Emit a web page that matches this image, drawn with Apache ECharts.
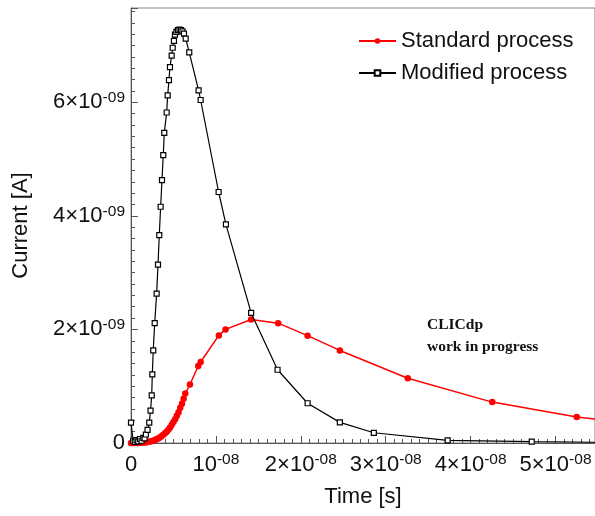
<!DOCTYPE html>
<html>
<head>
<meta charset="utf-8">
<script src="https://cdn.jsdelivr.net/npm/echarts@6/dist/echarts.min.js"></script>
<style>
html,body{margin:0;padding:0;background:#fff;}
#chart{width:595px;height:516px;}
</style>
</head>
<body>
<div id="chart"></div>
<script>
// Time in ns (1e-9 s), current in nA (1e-9 A)
const standardTimeNs = [0,0.2,0.4,0.6,0.8,1.0,1.2,1.4,1.6,1.8,2.0,2.2,2.4,2.6,2.8,3.0,3.2,3.4,3.6,3.8,4.0,4.2,4.4,4.6,4.8,5.0,5.2,5.4,5.6,5.8,6.0,6.2,6.39,6.94,7.92,8.2,10.35,11.14,14.15,17.33,20.8,24.6,32.6,42.55,52.5,56.0];
const standardCurrentNA = [0,0,0,0.001,0.002,0.003,0.005,0.007,0.01,0.014,0.019,0.025,0.032,0.041,0.052,0.065,0.08,0.098,0.12,0.145,0.17,0.2,0.235,0.275,0.32,0.37,0.42,0.48,0.54,0.62,0.69,0.78,0.87,1.03,1.356,1.426,1.895,2.0,2.175,2.11,1.89,1.63,1.14,0.72,0.456,0.40];

const modifiedTimeNs = [0,0.25,0.45,0.65,0.85,1.05,1.25,1.45,1.6,1.75,1.95,2.15,2.3,2.44,2.51,2.62,2.79,3.02,3.18,3.33,3.49,3.65,3.8,3.92,4.2,4.32,4.47,4.59,4.79,4.91,5.06,5.18,5.35,5.53,5.71,5.88,6.06,6.24,6.44,6.86,7.96,8.2,10.32,11.18,14.15,17.26,20.8,24.6,28.6,37.3,47.2,57.0];
const modifiedCurrentNA = [0.36,0.04,0.02,0.05,0.03,0.07,0.04,0.09,0.08,0.15,0.23,0.36,0.57,0.84,1.21,1.63,2.11,2.63,3.14,3.66,4.16,4.63,5.07,5.46,5.82,6.12,6.39,6.62,6.82,6.96,7.08,7.19,7.24,7.27,7.28,7.27,7.25,7.21,7.12,6.88,6.21,6.04,4.42,3.85,2.29,1.29,0.70,0.363,0.18,0.047,0.023,0.01];

const seriesNames = ['Standard process','Modified process'];
const xTickMantissa = {0:'0',10:'10',20:'2×10',30:'3×10',40:'4×10',50:'5×10'};
const yTickMantissa = {0:'0',2:'2×10',4:'4×10',6:'6×10'};
const xExp = '-08', yExp = '-09';

const pair = (a,b) => a.map((v,i)=>[v,b[i]]);

const chart = echarts.init(document.getElementById('chart'), null, {renderer:'canvas'});
const FONT = 'Liberation Sans, Arial, sans-serif';
const rich = {
  m:{fontSize:22, fontFamily:FONT, color:'#111', lineHeight:25},
  s:{fontSize:15.5, fontFamily:FONT, color:'#111', lineHeight:15, verticalAlign:'top'}
};
chart.setOption({
  animation:false,
  backgroundColor:'#fff',
  grid:{left:131, right:0, top:8, bottom:73, show:true, borderColor:'#888', borderWidth:1, backgroundColor:'transparent', containLabel:false, outerBoundsMode:'none'},
  legend:{
    orient:'vertical', left:358, top:30, padding:0, itemWidth:37, itemHeight:7, itemGap:10,
    data:seriesNames,
    textStyle:{fontSize:22, fontFamily:FONT, color:'#111', lineHeight:22}
  },
  xAxis:{
    type:'value', min:0, max:54.65, interval:10,
    name:'Time [s]', nameLocation:'middle', nameGap:43,
    nameTextStyle:{fontSize:22, fontFamily:FONT, color:'#111'},
    axisLine:{show:true, onZero:false, lineStyle:{color:'#555', width:1}},
    axisTick:{show:true, inside:true, length:7, lineStyle:{color:'#555'}},
    minorTick:{show:true, splitNumber:10, length:4, lineStyle:{color:'#555'}},
    splitLine:{show:false},
    axisLabel:{margin:9, rich:rich, showMaxLabel:false, formatter:v=>{
      const k=Math.round(v); if(k===0) return '{m|0}';
      return '{m|'+xTickMantissa[k]+'}{s|'+xExp+'}';
    }}
  },
  yAxis:{
    type:'value', min:0, max:7.66, interval:2,
    name:'Current [A]', nameLocation:'middle', nameGap:99,
    nameTextStyle:{fontSize:22, fontFamily:FONT, color:'#111'},
    axisLine:{show:true, onZero:false, lineStyle:{color:'#555', width:1}},
    axisTick:{show:true, inside:true, length:7, lineStyle:{color:'#555'}},
    minorTick:{show:true, splitNumber:10, length:4, lineStyle:{color:'#555'}},
    splitLine:{show:false},
    axisLabel:{margin:6, rich:rich, showMaxLabel:false, formatter:v=>{
      const k=Math.round(v); if(k===0) return '{m|0}';
      return '{m|'+yTickMantissa[k]+'}{s|'+yExp+'}';
    }}
  },
  series:[
    {
      name:seriesNames[0], type:'line', data:pair(standardTimeNs,standardCurrentNA),
      clip:true, showSymbol:true, showAllSymbol:true,
      symbol:'circle', symbolSize:6.5,
      lineStyle:{color:'#ff0000', width:1.5},
      itemStyle:{color:'#ff0000'}, color:'#ff0000', z:2
    },
    {
      name:seriesNames[1], type:'line', data:pair(modifiedTimeNs,modifiedCurrentNA),
      clip:true, showSymbol:true, showAllSymbol:true,
      symbol:'rect', symbolSize:5,
      lineStyle:{color:'#000', width:1.2},
      itemStyle:{color:'#fff', borderColor:'#000', borderWidth:1.2}, color:'#000', z:3
    }
  ],
  graphic:[
    {type:'text', left:427, top:317, style:{text:'CLICdp', font:'bold 15.5px "Liberation Serif", "Times New Roman", serif', fill:'#111'}},
    {type:'text', left:427, top:339, style:{text:'work in progress', font:'bold 15.5px "Liberation Serif", "Times New Roman", serif', fill:'#111'}}
  ]
});
</script>
</body>
</html>
